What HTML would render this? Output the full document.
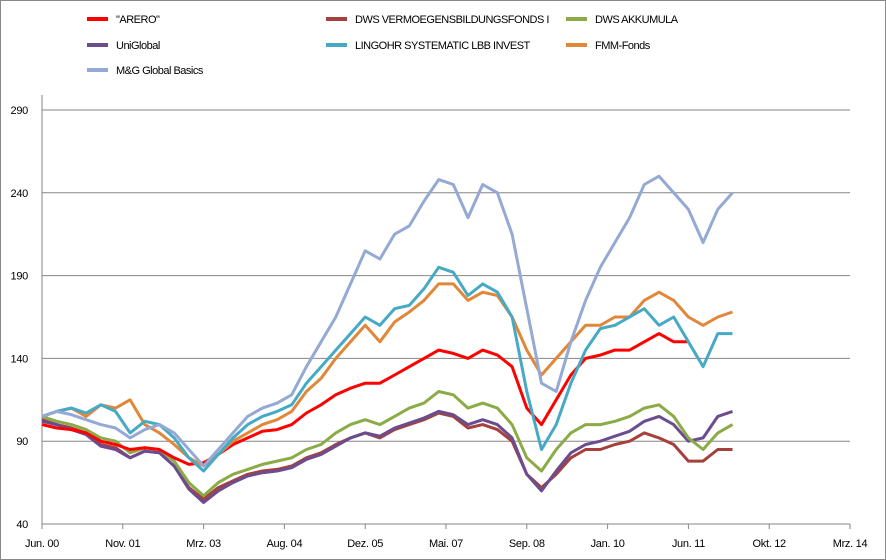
<!DOCTYPE html>
<html><head><meta charset="utf-8">
<style>
html,body{margin:0;padding:0;background:#fff;}
svg{display:block;font-family:"Liberation Sans",sans-serif;}
</style></head>
<body>
<svg id="chart" width="886" height="560" viewBox="0 0 886 560" xmlns="http://www.w3.org/2000/svg">
<rect x="0.5" y="0.5" width="885" height="559" fill="#fff" stroke="#888"/>
<g id="grid"></g>
<g id="axes"></g>
<g id="series"></g>
<g id="legend"></g>
</svg>
<script>
const months = [0,3,6,9,12,15,18,21,24,27,30,33,36,39,42,45,48,51,54,57,60,63,66,69,72,75,78,81,84,87,90,93,96,99,102,105,108,111,114,117,120,123,126,129,132,135,138,141];
const xTickLabels = ["Jun. 00","Nov. 01","Mrz. 03","Aug. 04","Dez. 05","Mai. 07","Sep. 08","Jan. 10","Jun. 11","Okt. 12","Mrz. 14"];
const yTicks = [40,90,140,190,240,290];
const seriesNames = ['"ARERO"',"DWS VERMOEGENSBILDUNGSFONDS  I","DWS AKKUMULA","UniGlobal","LINGOHR SYSTEMATIC  LBB INVEST","FMM-Fonds","M&G Global Basics"];
const arero = [100,98,97,95,90,88,85,86,85,80,76,77,82,88,92,96,97,100,107,112,118,122,125,125,130,135,140,145,143,140,145,142,135,110,100,115,130,140,142,145,145,150,155,150,150];
const dwsVerm = [103,100,98,95,88,86,80,84,83,75,62,55,62,66,70,72,73,75,80,83,88,92,95,92,97,100,103,107,105,98,100,97,90,70,62,70,80,85,85,88,90,95,92,88,78,78,85,85];
const dwsAkk = [105,102,100,97,92,90,83,86,85,78,65,57,65,70,73,76,78,80,85,88,95,100,103,100,105,110,113,120,118,110,113,110,100,80,72,85,95,100,100,102,105,110,112,105,92,85,95,100];
const uniGlobal = [102,100,97,94,87,85,80,84,83,75,61,53,60,65,69,71,72,74,79,82,87,92,95,93,98,101,104,108,106,100,103,100,92,70,60,72,83,88,90,93,96,102,105,100,90,92,105,108];
const lingohr = [105,108,110,107,112,108,95,102,100,92,80,72,82,92,100,105,108,112,125,135,145,155,165,160,170,172,182,195,192,178,185,180,165,120,85,100,125,145,158,160,165,170,160,165,150,135,155,155];
const fmm = [105,108,110,105,112,110,115,100,95,88,80,75,82,90,95,100,103,108,120,128,140,150,160,150,162,168,175,185,185,175,180,178,165,145,130,140,150,160,160,165,165,175,180,175,165,160,165,168];
const mg = [105,108,106,103,100,98,92,97,100,95,85,75,85,95,105,110,113,118,135,150,165,185,205,200,215,220,235,248,245,225,245,240,215,170,125,120,150,175,195,210,225,245,250,240,230,210,230,240];

const NS="http://www.w3.org/2000/svg";
const X0=42,X1=850,Y0=524,Y1=110,MAXM=165,VMIN=40,VMAX=290;
function xScale(m){return X0+(X1-X0)*m/MAXM;}
function yScale(v){return Y0-(Y0-Y1)*(v-VMIN)/(VMAX-VMIN);}
function mk(tag,attrs,parent){const e=document.createElementNS(NS,tag);for(const k in attrs)e.setAttribute(k,attrs[k]);parent.appendChild(e);return e;}

const grid=document.getElementById('grid');
yTicks.forEach(v=>{
  if(v>VMIN){
    const l=mk('line',{x1:X0,x2:X1,y1:yScale(v),y2:yScale(v),stroke:'#868686','stroke-width':1},grid);
    
    
  }
  const t=mk('text',{x:28,y:yScale(v)+4,'text-anchor':'end','font-size':11,'letter-spacing':-0.3,fill:'#000'},grid);
  t.textContent=v;
  
  
});
const axes=document.getElementById('axes');
const ya=mk('line',{x1:X0,x2:X0,y1:95,y2:Y0+5,stroke:'#868686'},axes);


const xa=mk('line',{x1:X0,x2:X1,y1:Y0,y2:Y0,stroke:'#868686'},axes);


xTickLabels.forEach((lab,i)=>{
  const x=xScale(i*MAXM/(xTickLabels.length-1));
  const tk=mk('line',{x1:x,x2:x,y1:Y0,y2:Y0+5,stroke:'#868686'},axes);
  
  
  const t=mk('text',{x:x,y:547,'text-anchor':'middle','font-size':11,'letter-spacing':-0.3,fill:'#000'},axes);
  t.textContent=lab;
  
  
});

const colors=['#ff0000','#a5403c','#8aab45','#6b4d8f','#46aac5','#e0873a','#94a9d3'];
const data=[arero,dwsVerm,dwsAkk,uniGlobal,lingohr,fmm,mg];
const order=[1,3,2,0,5,4,6];
const sg=document.getElementById('series');
order.forEach(i=>{
  const d=data[i].map((v,j)=>(j?'L':'M')+xScale(months[j]).toFixed(1)+','+yScale(v).toFixed(1)).join(' ');
  const p=mk('path',{d:d,fill:'none',stroke:colors[i],'stroke-width':3,'stroke-linejoin':'round'},sg);
  
  
});

const lg=document.getElementById('legend');
const pos=[[87,19],[326,19],[566,19],[87,45],[326,45],[566,45],[87,70]];
seriesNames.forEach((n,i)=>{
  const [x,y]=pos[i];
  const l=mk('line',{x1:x,x2:x+21,y1:y,y2:y,stroke:colors[i],'stroke-width':4},lg);
  
  
  const t=mk('text',{x:x+29,y:y+4,'font-size':11,'letter-spacing':-0.5,fill:'#000'},lg);
  t.textContent=n;
  
  
});
</script>
</body></html>
